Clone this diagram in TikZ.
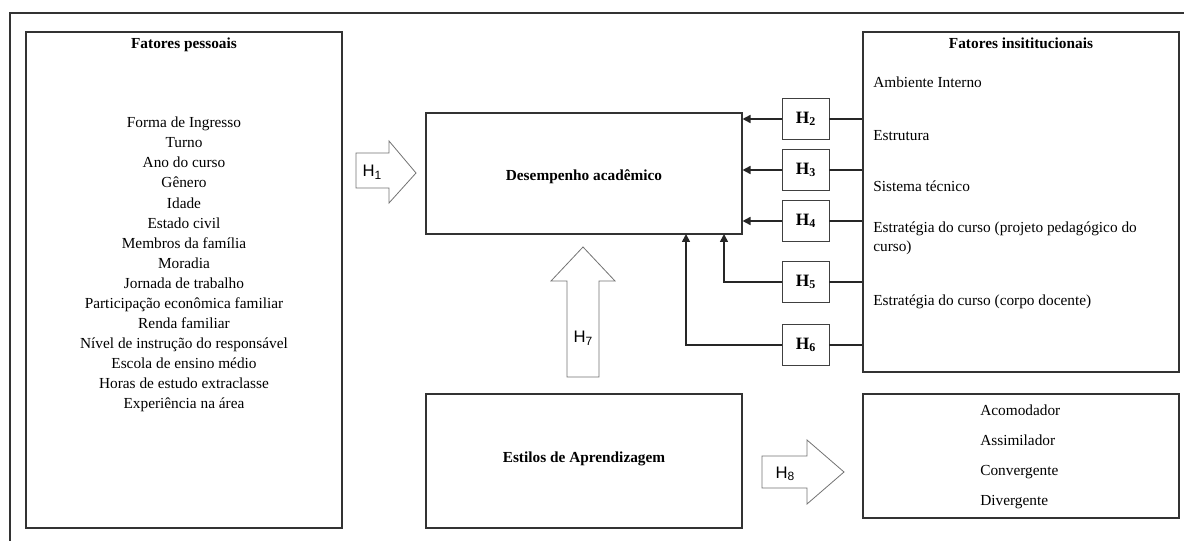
\documentclass[tikz,border=0pt]{standalone}
\usepackage{fontspec}
\setmainfont{Liberation Serif}
\newfontfamily\hfont{Liberation Sans}
\usetikzlibrary{fit,arrows.meta}

\tikzset{
  caixa/.style={draw=black!80,line width=0.8pt,inner sep=0pt},
  hbox/.style={draw=black!75,line width=0.7pt,minimum width=35.25pt,minimum height=30.75pt,inner sep=0pt,font=\fontsize{13}{15}\selectfont\bfseries},
  ligacao/.style={line width=1.2pt,black!85,-{Triangle[length=6pt,width=6pt]}},
  linha/.style={line width=1.2pt,black!85},
  seta/.style={draw=black!55,line width=0.6pt,fill=white},
  rotulo/.style={inner sep=0pt,font=\fontsize{12.5}{15}\selectfont\hfont},
  texto/.style={inner sep=0pt,font=\fontsize{11.5}{14.5}\selectfont},
  item/.style={texto,text height=8pt,text depth=2.5pt},
  titulo/.style={item,font=\fontsize{11.5}{14}\selectfont\bfseries},
}
\newcommand{\hip}[1]{H\raisebox{-0.3ex}{\small #1}}

\begin{document}
\begin{tikzpicture}[x=0.75pt,y=-0.75pt]
    \useasboundingbox (0,0) rectangle (1184,541);
    % moldura
    \draw[line width=1.5pt,black!80] (10,545) -- (10,13) -- (1190,13);

    % caixas principais
    \node[caixa,fit={(26,32) (342,528)}] (pessoais) {};
    \node[caixa,fit={(426,113) (742,234)}] (desemp) {};
    \node[caixa,fit={(863,32) (1179,372)}] (inst) {};
    \node[caixa,fit={(426,394) (742,528)}] (estilos) {};
    \node[caixa,fit={(863,394) (1179,518)}] (tipos) {};

    \node[titulo] (tpess) at (184,45) {Fatores pessoais};
    \foreach \t [count=\i] in {Forma de Ingresso,Turno,Ano do curso,G\^enero,Idade,
      Estado civil,Membros da fam\'ilia,Moradia,Jornada de trabalho,
      Participa\c{c}\~ao econ\^omica familiar,Renda familiar,
      N\'ivel de instru\c{c}\~ao do respons\'avel,Escola de ensino m\'edio,
      Horas de estudo extraclasse,Experi\^encia na \'area}
      \node[item] (p\i) at (184,104+20.07*\i) {\t};

    \node[titulo] (tdes) at (584,177) {Desempenho acad\^emico};
    \node[titulo] (test) at (584,459) {Estilos de Aprendizagem};

    \node[titulo] (tinst) at (1021,45) {Fatores insititucionais};
    \node[item,anchor=west] (i1) at (873,84) {Ambiente Interno};
    \node[item,anchor=west] (i2) at (873,137) {Estrutura};
    \node[item,anchor=west] (i3) at (873,188) {Sistema t\'ecnico};
    \node[texto,anchor=west,align=left] (i4) at (873,238)
      {Estrat\'egia do curso (projeto pedag\'ogico do\\curso)};
    \node[item,anchor=west] (i5) at (873,302) {Estrat\'egia do curso (corpo docente)};

    \foreach \t [count=\i] in {Acomodador,Assimilador,Convergente,Divergente}
      \node[item,anchor=west] (e\i) at (980,382+30*\i) {\t};

    % hipoteses H2 a H6
    \node[hbox] (h2) at (805.5,119) {\hip{2}};
    \node[hbox] (h3) at (805.5,170) {\hip{3}};
    \node[hbox] (h4) at (805.5,221) {\hip{4}};
    \node[hbox] (h5) at (805.5,282) {\hip{5}};
    \node[hbox] (h6) at (805.5,345) {\hip{6}};

    \foreach \h in {h2,h3,h4,h5,h6}
      \draw[linha] (\h.east) -- (inst.west |- \h.east);
    \foreach \h in {h2,h3,h4}
      \draw[ligacao] (\h.west) -- (desemp.east |- \h.west);
    \coordinate (d5) at (724,234);
    \coordinate (d6) at (686,234);
    \draw[ligacao] (h5.west) -| (d5);
    \draw[ligacao] (h6.west) -| (d6);

    % setas largas
    \draw[seta] (356,153) -- (389,153) -- (389,141) -- (416,173) -- (389,203)
      -- (389,188) -- (356,188) -- cycle;
    \node[rotulo] (h1) at (372,172) {\hip{1}};
    \draw[seta] (567,377) -- (567,281) -- (551,281) -- (583,247) -- (615,281)
      -- (599,281) -- (599,377) -- cycle;
    \node[rotulo] (h7) at (583,338) {\hip{7}};
    \draw[seta] (762,456) -- (807,456) -- (807,440) -- (844,472) -- (807,504)
      -- (807,488) -- (762,488) -- cycle;
    \node[rotulo] (h8) at (785,474) {\hip{8}};
\end{tikzpicture}
\end{document}
